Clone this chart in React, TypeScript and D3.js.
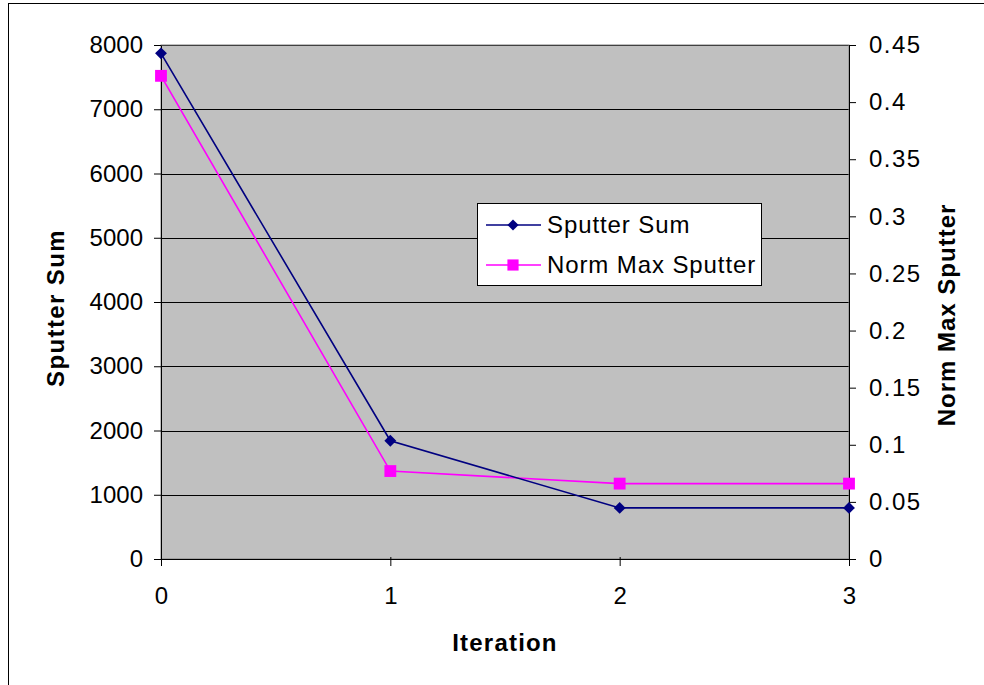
import { useEffect, useRef } from "react";
import * as d3 from "d3";

const iterations = [0, 1, 2, 3];
const sputterSum = [7870, 1840, 795, 795];
const normMaxSputter = [0.423, 0.077, 0.066, 0.066];
const leftTicks = [0, 1000, 2000, 3000, 4000, 5000, 6000, 7000, 8000];
const rightTicks = [0, 0.05, 0.1, 0.15, 0.2, 0.25, 0.3, 0.35, 0.4, 0.45];

const W = 984;
const H = 685;
const font = "'Liberation Sans', Arial, sans-serif";

export default function App() {
  const ref = useRef<SVGSVGElement>(null);

  useEffect(() => {
    if (!ref.current) return;
    const svg = d3.select(ref.current);
    svg.selectAll("*").remove();

    const left = 161, right = 849, top = 45, bottom = 559;
    const x = d3.scaleLinear().domain([0, 3]).range([left, right]);
    const yL = d3.scaleLinear().domain([0, 8000]).range([bottom, top]);
    const yR = d3.scaleLinear().domain([0, 0.45]).range([bottom, top]);

    svg.append("rect").attr("width", W).attr("height", H).attr("fill", "#fff");
    // outer chart border
    svg.append("rect")
      .attr("x", 8.5).attr("y", 3.5).attr("width", W + 10).attr("height", H + 10)
      .attr("fill", "none").attr("stroke", "#000").attr("stroke-width", 1);

    svg.append("rect")
      .attr("x", left).attr("y", top).attr("width", right - left).attr("height", bottom - top)
      .attr("fill", "#c0c0c0");

    // gridlines
    svg.append("g").selectAll("line").data(leftTicks.slice(1)).join("line")
      .attr("x1", left).attr("x2", right)
      .attr("y1", (d) => Math.round(yL(d)) + 0.5).attr("y2", (d) => Math.round(yL(d)) + 0.5)
      .attr("stroke", "#000").attr("stroke-width", 1);

    // plot frame
    svg.append("rect")
      .attr("x", left).attr("y", top).attr("width", right - left).attr("height", bottom - top)
      .attr("fill", "none").attr("stroke", "#808080").attr("stroke-width", 1);

    const axisStyle = (g: d3.Selection<SVGGElement, unknown, null, undefined>) => {
      g.select(".domain").attr("stroke", "#000");
      g.selectAll(".tick line").attr("stroke", "#000");
      g.selectAll("text").attr("font-family", font).attr("font-size", 24).attr("fill", "#000");
    };

    svg.append("g")
      .attr("transform", `translate(${left},0)`)
      .call(d3.axisLeft(yL).tickValues(leftTicks).tickSize(7).tickSizeOuter(0).tickPadding(11).tickFormat(d3.format("d")))
      .call(axisStyle);

    svg.append("g")
      .attr("transform", `translate(${right},0)`)
      .call(d3.axisRight(yR).tickValues(rightTicks).tickSize(7).tickSizeOuter(0).tickPadding(13).tickFormat((d) => String(+d)))
      .call(axisStyle)
      .selectAll("text").attr("letter-spacing", 1.5);

    const xg = svg.append("g")
      .attr("transform", `translate(0,${bottom})`)
      .call(d3.axisBottom(x).tickValues(iterations).tickSize(7).tickSizeOuter(0).tickPadding(21).tickFormat(d3.format("d")))
      .call(axisStyle);
    xg.selectAll(".tick line").attr("y1", -2);

    // axis titles
    const title = (sel: d3.Selection<SVGTextElement, unknown, null, undefined>, ls: number) =>
      sel.attr("text-anchor", "middle").attr("font-family", font).attr("font-size", 24)
        .attr("font-weight", "bold").attr("letter-spacing", ls);
    svg.append("text").attr("x", x(1.5)).attr("y", 651).call(title, 1.2).text("Iteration");
    svg.append("text").attr("transform", `translate(64,308) rotate(-90)`).call(title, 1.4).text("Sputter Sum");
    svg.append("text").attr("transform", `translate(955,315) rotate(-90)`).call(title, 1).text("Norm Max Sputter");

    const navy = "#000080";
    const magenta = "#ff00ff";

    const lineL = d3.line<number>().x((_, i) => x(iterations[i])).y((d) => yL(d));
    const lineR = d3.line<number>().x((_, i) => x(iterations[i])).y((d) => yR(d));

    svg.append("path").datum(normMaxSputter).attr("d", lineR)
      .attr("fill", "none").attr("stroke", magenta).attr("stroke-width", 1.6);
    svg.append("path").datum(sputterSum).attr("d", lineL)
      .attr("fill", "none").attr("stroke", navy).attr("stroke-width", 1.6);

    const sq = d3.symbol(d3.symbolSquare, 140);
    const dia = d3.symbol(d3.symbolDiamond2, 90);

    svg.append("g").selectAll("path").data(normMaxSputter).join("path")
      .attr("d", sq).attr("transform", (d, i) => `translate(${x(iterations[i])},${yR(d)})`)
      .attr("fill", magenta);
    svg.append("g").selectAll("path").data(sputterSum).join("path")
      .attr("d", dia).attr("transform", (d, i) => `translate(${x(iterations[i])},${yL(d)})`)
      .attr("fill", navy);

    // legend
    const lg = svg.append("g").attr("transform", "translate(477,203)");
    lg.append("rect").attr("x", 0.5).attr("y", 0.5).attr("width", 284).attr("height", 82)
      .attr("fill", "#fff").attr("stroke", "#000");
    const items = [
      { label: "Sputter Sum", color: navy, sym: d3.symbol(d3.symbolDiamond2, 80) },
      { label: "Norm Max Sputter", color: magenta, sym: d3.symbol(d3.symbolSquare, 125) },
    ];
    items.forEach((it, i) => {
      const cy = 22 + i * 40;
      lg.append("line").attr("x1", 9).attr("x2", 64).attr("y1", cy).attr("y2", cy)
        .attr("stroke", it.color).attr("stroke-width", 1.5);
      lg.append("path").attr("d", it.sym).attr("fill", it.color)
        .attr("transform", `translate(36,${cy})`);
      lg.append("text").attr("x", 70).attr("y", cy + 8).attr("font-family", font).attr("font-size", 24)
        .attr("letter-spacing", 0.9).text(it.label);
    });
  }, []);

  return (
    <svg ref={ref} width={W} height={H} style={{ position: "fixed", left: 0, top: 0 }} />
  );
}
